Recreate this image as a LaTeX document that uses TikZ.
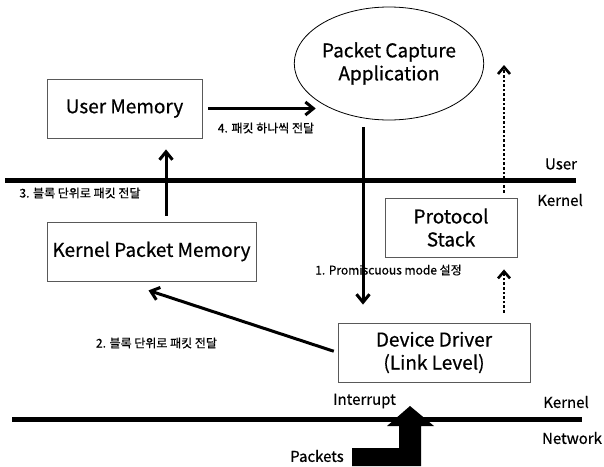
\documentclass[tikz,border=0pt]{standalone}
\usepackage{fontspec}
\setmainfont{Noto Sans CJK KR}[FakeBold=0.6]
\usetikzlibrary{shapes.geometric, arrows.meta, positioning, calc}

\begin{document}
\begin{tikzpicture}[
    x=1pt, y=-1pt,
    membox/.style={rectangle, draw=black!65, line width=0.8pt, minimum height=59pt, align=center, font=\fontsize{19}{23}\selectfont, inner sep=0pt},
    appnode/.style={ellipse, draw, line width=0.8pt, minimum width=160pt, minimum height=113pt, align=center, font=\fontsize{19}{23}\selectfont, inner sep=0pt},
    steplabel/.style={font=\fontsize{12}{14}\selectfont, inner sep=0pt},
    layerlabel/.style={font=\fontsize{15}{17}\selectfont, inner sep=0pt},
    arrow/.style={-{Straight Barb[length=8pt, width=13pt]}, line width=3pt},
    dotarrow/.style={-{Straight Barb[length=7pt, width=12pt]}, line width=2.6pt, dash pattern=on 2.6pt off 2pt},
    sepline/.style={line width=5pt}
]
\useasboundingbox (0,0) rectangle (604,466);

% ============ BOXES ============
\node[membox, minimum width=155pt] (usermem) at (124.5,108.5) {User Memory};
\node[membox, minimum width=209pt] (kernmem) at (151.5,251.5) {Kernel Packet Memory};
\node[appnode] (pcapp) at (389,63.5) {Packet Capture\\Application};
\node[membox, minimum width=132pt] (protstack) at (451,227.5) {Protocol\\Stack};
\node[membox, minimum width=192pt] (devdrv) at (434,352.5) {Device Driver\\(Link Level)};

% ============ LAYER LINES ============
\coordinate (ukleft) at (5,180);
\coordinate (ukright) at (576,180);
\coordinate (knleft) at (12,419);
\coordinate (knright) at (582,419);
\coordinate (stacktop) at (504,65);

\draw[sepline] (ukleft) -- (ukright);
\draw[sepline] (knleft) -- (knright);

% ============ ARROWS ============
\draw[arrow, shorten <=6pt, shorten >=6pt] (usermem.east) -- (usermem.east -| pcapp.south west);
\draw[arrow, shorten <=6pt, shorten >=11pt] ([xshift=14.5pt]kernmem.north) -- ([xshift=14.5pt]kernmem.north |- usermem.south);
\draw[arrow, shorten <=7pt, shorten >=18pt] ([xshift=-26pt]pcapp.south) -- ([xshift=-26pt]pcapp.south |- devdrv.north);
\draw[arrow, shorten <=4pt] (devdrv.west) -- ([shift={(-3,9)}]kernmem.south);
\draw[dotarrow, shorten <=5pt] ([xshift=53pt]protstack.north) -- (stacktop);
\draw[dotarrow, shorten <=10pt, shorten >=12pt] ([xshift=70pt]devdrv.north) -- ([xshift=70pt]devdrv.north |- protstack.south);

% Packets coming in from the network
\fill (352,466) -- (352,448) -- (399,448) -- (399,426) -- (387,426) -- (410,406)
      -- (434,426) -- (421,426) -- (421,466) -- cycle;

% ============ LABELS ============
\node[steplabel] (step4) at (266,128) {4. 패킷 하나씩 전달};
\node[steplabel] (step3) at (80,193) {3. 블록 단위로 패킷 전달};
\node[steplabel] (step2) at (156.5,343) {2. 블록 단위로 패킷 전달};
\node[steplabel] (step1) at (388.5,270) {1. Promiscuous mode 설정};
\node[layerlabel] (userlbl) at (561,164) {User};
\node[layerlabel] (kernlbl) at (560,200) {Kernel};
\node[layerlabel] (kernlbl2) at (566,402) {Kernel};
\node[layerlabel] (netlbl) at (572,438) {Network};
\node[layerlabel] (intrlbl) at (364.5,401) {Interrupt};
\node[layerlabel] (pktlbl) at (317,456) {Packets};

\end{tikzpicture}
\end{document}
